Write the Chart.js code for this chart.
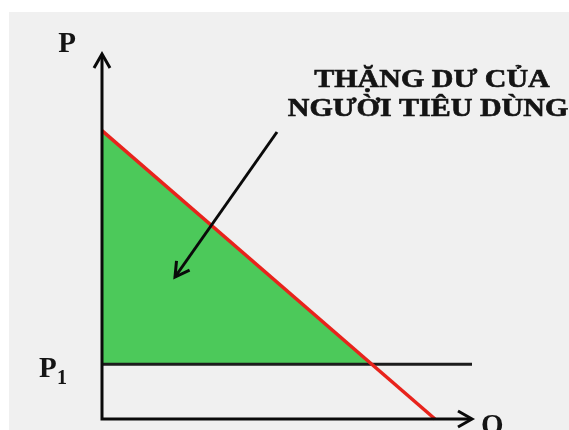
<!DOCTYPE html>
<html>
<head>
<meta charset="utf-8">
<script src="https://cdn.jsdelivr.net/npm/chart.js@4.4.1/dist/chart.umd.min.js"></script>
<style>
    html, body { margin: 0; padding: 0; background: #ffffff; }
    #wrap { width: 569px; height: 430px; }
</style>
</head>
<body>
<div id="wrap"><canvas id="graficoThangDu" width="569" height="430"></canvas></div>
<script>
// Đường cầu: giá tại Q = 0 và lượng tại P = 0
const demandQ = [0, 9];
const demandP = [7.9, 0];
// Mức giá P1 và độ dài đường giá
const priceP1 = 1.5;
const priceLineQ = [0, 10];
// Giới hạn trục
const axisMaxQ = 10;
const axisMaxP = 10;
// Nhãn
const axisLabels = ['P', 'Q'];
const priceLabel = ['P', '1'];
const surplusLabel = ['THẶNG DƯ CỦA', 'NGƯỜI TIÊU DÙNG'];

// lượng tại giao điểm của đường cầu và P1
const slope = (demandP[1] - demandP[0]) / (demandQ[1] - demandQ[0]);
const qStar = demandQ[0] + (priceP1 - demandP[0]) / slope;

function arrowHead(ctx, x1, y1, x2, y2, len, half) {
    const ang = Math.atan2(y2 - y1, x2 - x1);
    const wing = Math.atan2(half, len);
    const l = Math.hypot(len, half);
    ctx.beginPath();
    ctx.moveTo(x2 - l * Math.cos(ang - wing), y2 - l * Math.sin(ang - wing));
    ctx.lineTo(x2, y2);
    ctx.lineTo(x2 - l * Math.cos(ang + wing), y2 - l * Math.sin(ang + wing));
    ctx.stroke();
}

function stretchedText(ctx, text, x, y, sx) {
    ctx.save();
    ctx.translate(x, y);
    ctx.scale(sx, 1);
    ctx.fillText(text, 0, 0);
    ctx.restore();
}

const nenXam = {
    id: 'nenXam',
    beforeDraw(chart) {
        const ctx = chart.ctx;
        ctx.save();
        ctx.fillStyle = '#ffffff';
        ctx.fillRect(0, 0, chart.width, chart.height);
        ctx.fillStyle = '#f0f0f0';
        ctx.fillRect(9, 12, chart.width - 9, chart.height - 12);
        ctx.restore();
    }
};

const trucVaNhan = {
    id: 'trucVaNhan',
    afterDatasetsDraw(chart) {
        const ctx = chart.ctx;
        const xs = chart.scales.x, ys = chart.scales.y;
        const x0 = xs.getPixelForValue(0), y0 = ys.getPixelForValue(0);
        const xEnd = xs.getPixelForValue(axisMaxQ), yEnd = ys.getPixelForValue(axisMaxP);
        ctx.save();
        ctx.strokeStyle = '#0a0a0a';
        ctx.lineWidth = 3;
        ctx.lineCap = 'butt';
        ctx.beginPath();
        ctx.moveTo(x0, y0 + 1.5);
        ctx.lineTo(x0, yEnd + 1);
        ctx.moveTo(x0 - 1.5, y0);
        ctx.lineTo(xEnd - 1, y0);
        ctx.stroke();
        ctx.lineJoin = 'miter';
        arrowHead(ctx, x0, y0, x0, yEnd, 14, 8);
        arrowHead(ctx, x0, y0, xEnd, y0, 14, 8);

        // mũi tên chỉ vào vùng thặng dư
        const ax1 = 277, ay1 = 132, ax2 = 175, ay2 = 277;
        ctx.lineWidth = 3;
        ctx.beginPath();
        ctx.moveTo(ax1, ay1);
        ctx.lineTo(ax2, ay2);
        ctx.stroke();
        arrowHead(ctx, ax1, ay1, ax2, ay2, 14, 8);

        ctx.fillStyle = '#141414';
        ctx.strokeStyle = '#141414';
        ctx.textBaseline = 'alphabetic';
        ctx.font = 'bold 29px "Liberation Serif", "Times New Roman", serif';
        ctx.textAlign = 'center';
        ctx.fillText(axisLabels[0], 67, 52);
        ctx.textAlign = 'left';
        ctx.fillText(axisLabels[1], 481, 434);
        const pY = ys.getPixelForValue(priceP1);
        ctx.fillText(priceLabel[0], 39, pY + 13);
        ctx.font = 'bold 20px "Liberation Serif", "Times New Roman", serif';
        ctx.fillText(priceLabel[1], 57, pY + 20);

        // chữ đậm hơn một chút bằng nét viền mảnh
        ctx.font = 'bold 25px "Liberation Serif", "Times New Roman", serif';
        ctx.textAlign = 'center';
        ctx.lineWidth = 0.6;
        surplusLabel.forEach((t, i) => {
            const ty = i === 0 ? 87 : 116;
            const tx = i === 0 ? 432 : 428;
            ctx.save();
            ctx.translate(tx, ty);
            ctx.scale(1.2, 1);
            ctx.fillText(t, 0, 0);
            ctx.strokeText(t, 0, 0);
            ctx.restore();
        });
        ctx.restore();
    }
};

new Chart(document.getElementById('graficoThangDu'), {
    type: 'line',
    data: {
        datasets: [
            {
                label: 'Cầu',
                data: demandQ.map((q, i) => ({ x: q, y: demandP[i] })),
                borderColor: '#e8231c',
                borderWidth: 3.5,
                pointRadius: 0,
                fill: false,
                clip: false
            },
            {
                label: 'P1',
                data: priceLineQ.map(q => ({ x: q, y: priceP1 })),
                borderColor: '#1c1c1c',
                borderWidth: 3,
                pointRadius: 0,
                fill: false,
                clip: false
            },
            {
                label: 'Thặng dư',
                data: [{ x: 0, y: demandP[0] }, { x: qStar, y: priceP1 }],
                borderColor: 'rgba(0,0,0,0)',
                borderWidth: 1,
                backgroundColor: '#4cc95a',
                fill: { value: priceP1 },
                pointRadius: 0,
                clip: false
            }
        ]
    },
    options: {
        responsive: false,
        animation: false,
        layout: { padding: { left: 102, right: 97, top: 54, bottom: 11 } },
        scales: {
            x: { type: 'linear', min: 0, max: axisMaxQ, display: false },
            y: { type: 'linear', min: 0, max: axisMaxP, display: false }
        },
        plugins: {
            legend: { display: false },
            tooltip: { enabled: false }
        }
    },
    plugins: [nenXam, trucVaNhan]
});
</script>
</body>
</html>
